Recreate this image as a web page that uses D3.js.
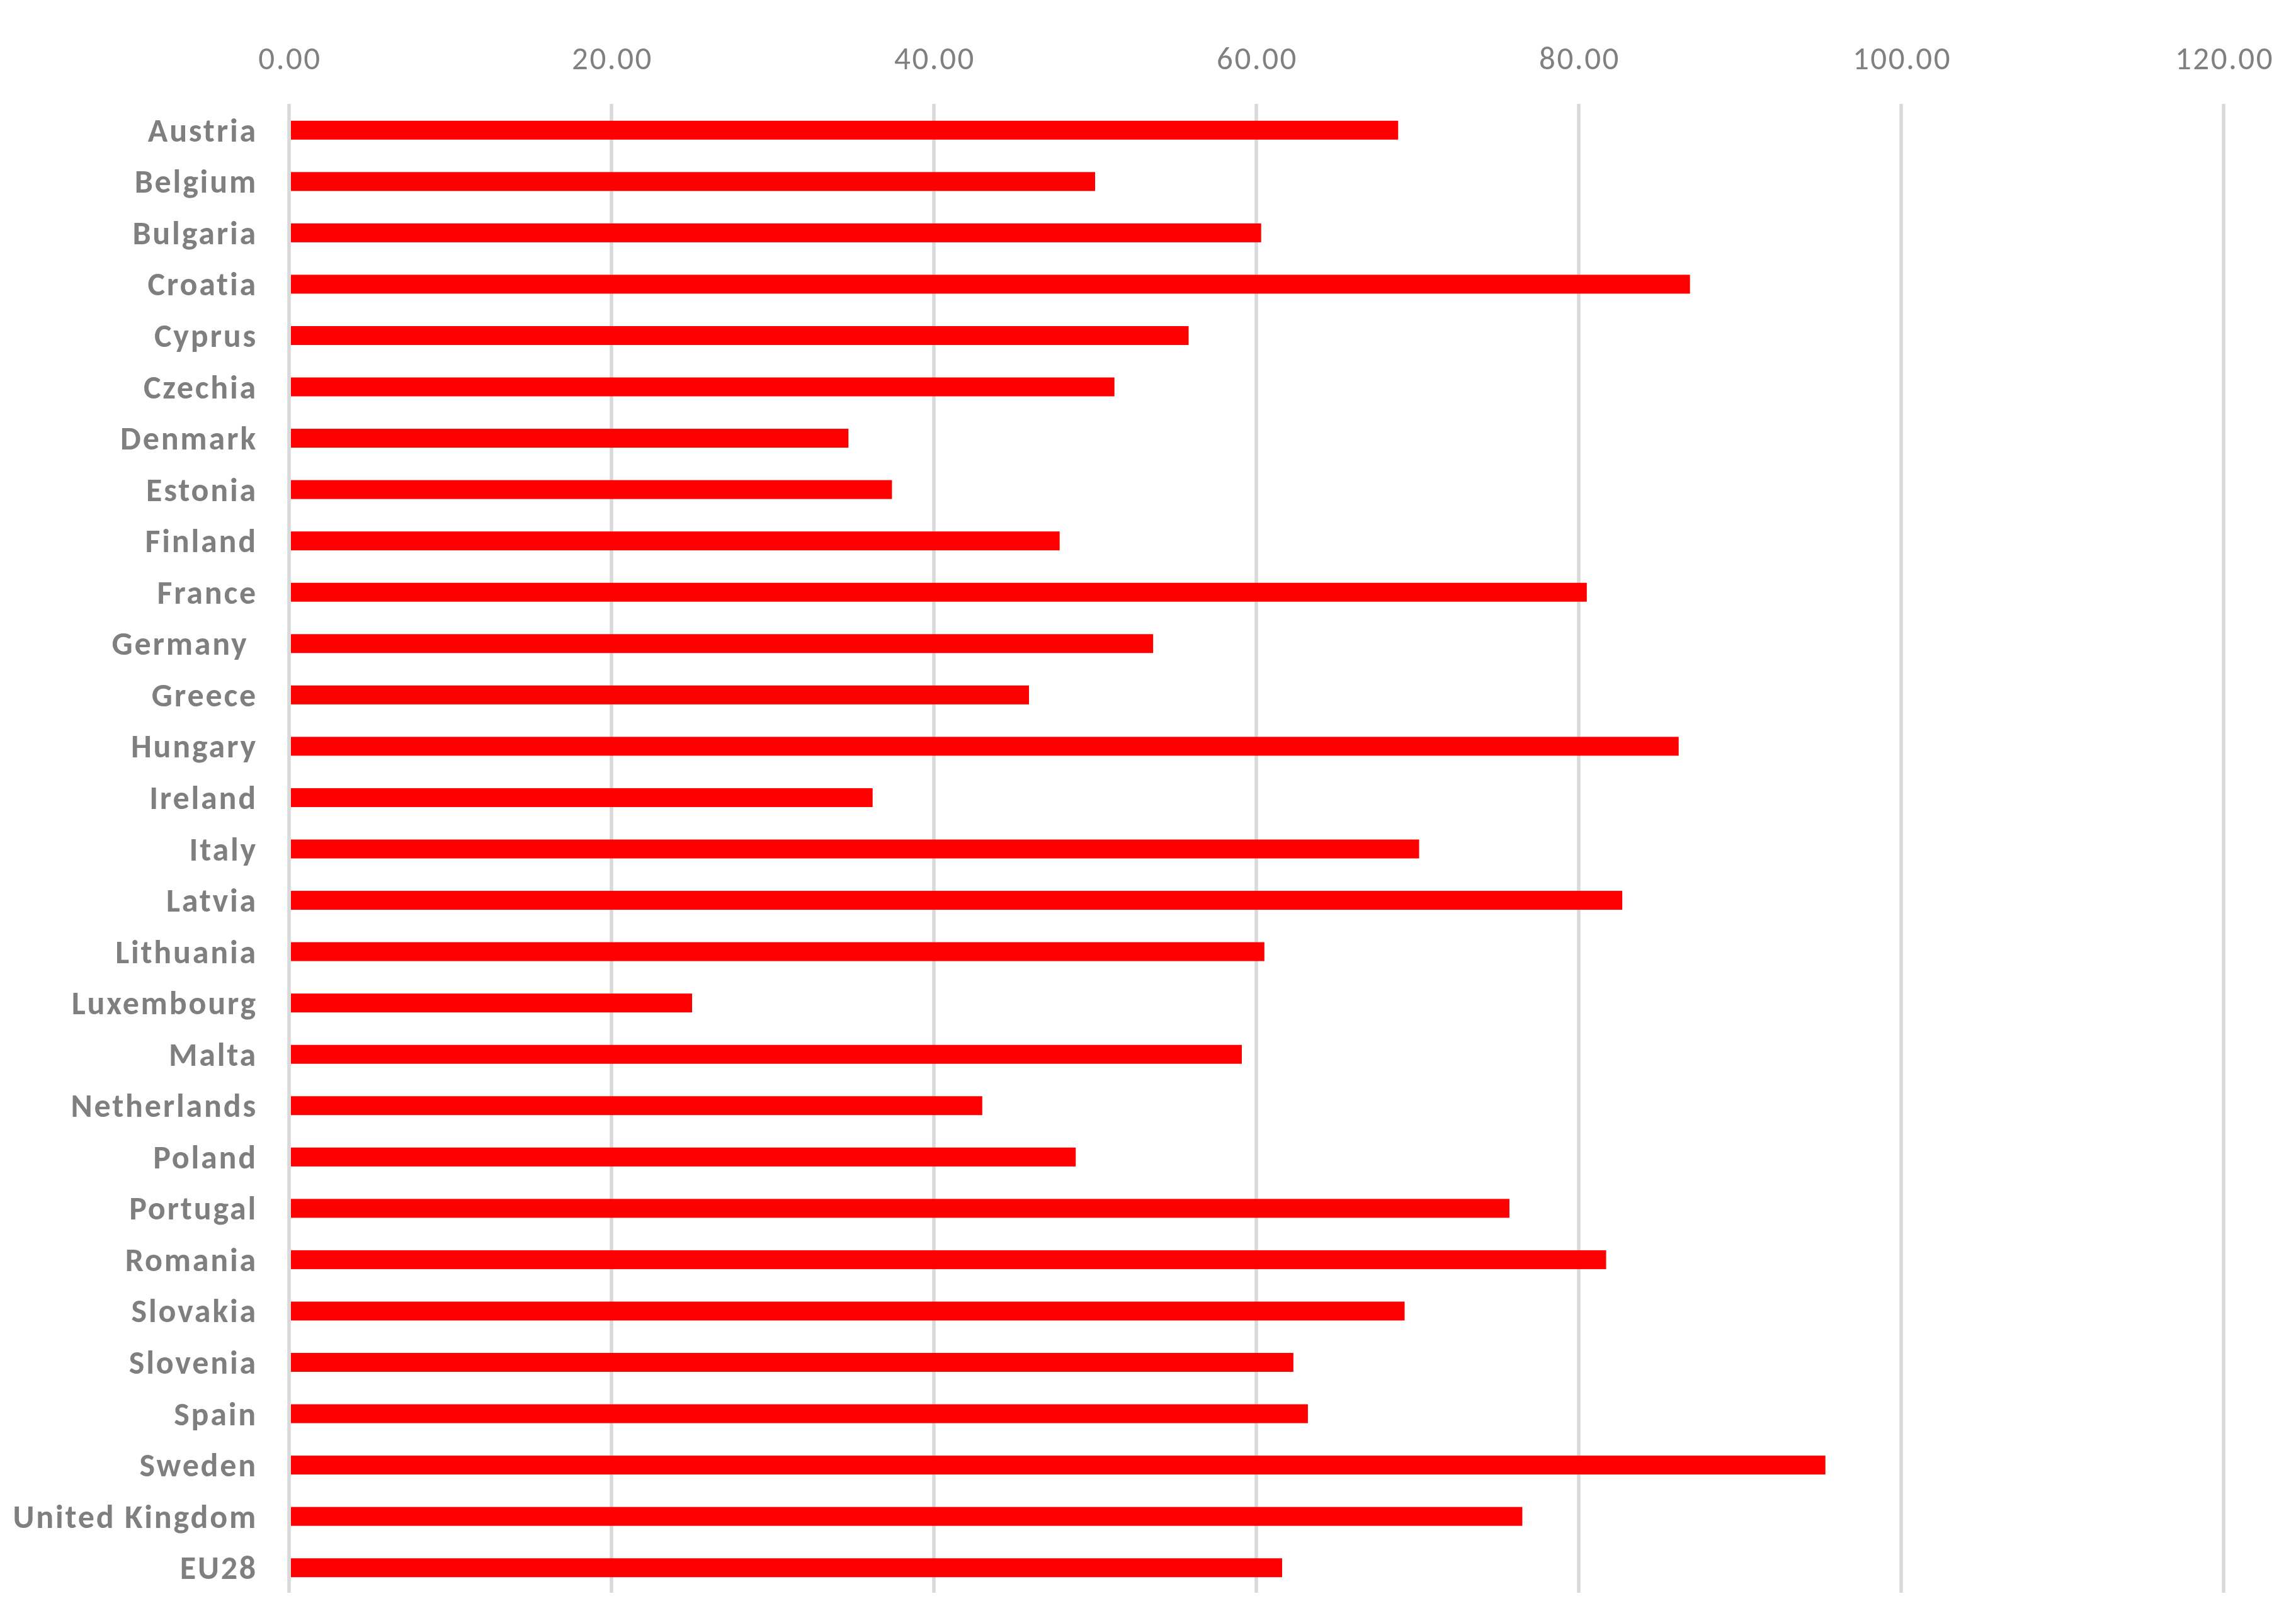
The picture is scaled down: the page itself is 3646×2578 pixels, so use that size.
<!DOCTYPE html>
<html>
<head>
<meta charset="utf-8">
<script src="https://cdn.jsdelivr.net/npm/d3@7/dist/d3.min.js"></script>
<style>
  html, body { margin: 0; padding: 0; background: #fff; }
  svg { display: block; }
  text { font-family: Carlito, Calibri, Lato, "Open Sans", sans-serif; }
</style>
</head>
<body>
<script>
const categories = ["Austria","Belgium","Bulgaria","Croatia","Cyprus","Czechia","Denmark","Estonia","Finland","France","Germany ","Greece","Hungary","Ireland","Italy","Latvia","Lithuania","Luxembourg","Malta","Netherlands","Poland","Portugal","Romania","Slovakia","Slovenia","Spain","Sweden","United Kingdom","EU28"];
const values = [68.8,50.0,60.3,86.9,55.8,51.2,34.7,37.4,47.8,80.5,53.6,45.9,86.2,36.2,70.1,82.7,60.5,25.0,59.1,43.0,48.8,75.7,81.7,69.2,62.3,63.2,95.3,76.5,61.6];
const tickValues = [0,20,40,60,80,100,120];

const W = 3646, H = 2578;
const m = {left: 459, right: 115, top: 165, bottom: 48};

const svg = d3.select("body").append("svg").attr("width", W).attr("height", H);

const x = d3.scaleLinear().domain([0,120]).range([m.left, W - m.right]);
const y = d3.scaleBand().domain(categories).range([m.top, H - m.bottom]).paddingInner(0.632).paddingOuter(0.316);

// gridlines
svg.append("g").selectAll("line").data(tickValues).join("line")
  .attr("x1", d => x(d)).attr("x2", d => x(d))
  .attr("y1", m.top).attr("y2", H - m.bottom)
  .attr("stroke", "#d9d9d9").attr("stroke-width", 5.5);

// top tick labels
svg.append("g").selectAll("text").data(tickValues).join("text")
  .attr("x", d => x(d) + 1.5).attr("y", 110)
  .attr("text-anchor", "middle")
  .attr("fill", "#808080")
  .attr("font-size", 51)
  .attr("letter-spacing", 2.5)
  .text(d => d3.format(".2f")(d));

// bars
svg.append("g").selectAll("rect").data(values).join("rect")
  .attr("x", x(0) + 3)
  .attr("y", (d,i) => y(categories[i]) + 1)
  .attr("width", d => x(d) - x(0) - 3)
  .attr("height", y.bandwidth())
  .attr("fill", "#ff0000");

// category labels
svg.append("g").selectAll("text").data(categories).join("text")
  .attr("x", 409)
  .attr("y", d => y(d) + y.bandwidth()/2 + 19)
  .attr("text-anchor", "end")
  .attr("fill", "#7f7f7f")
  .attr("font-weight", "bold")
  .attr("font-size", 52)
  .attr("letter-spacing", 2.8)
  .style("white-space", "pre")
  .text(d => d);
</script>
</body>
</html>
